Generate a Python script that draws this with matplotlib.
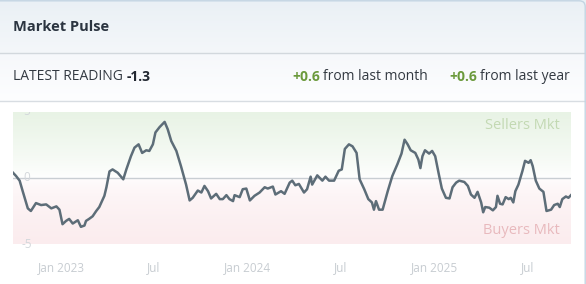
import numpy as np
import pandas as pd
import matplotlib
matplotlib.use("Agg")
import matplotlib.pyplot as plt
import matplotlib.dates as mdates
import matplotlib.transforms as mtrans
from matplotlib.patches import FancyBboxPatch
from matplotlib.colors import to_rgb

# --- data ---
dates = [
    "2022-09-28", "2022-10-04", "2022-10-11", "2022-10-17", "2022-10-27", "2022-11-02",
    "2022-11-12", "2022-11-22", "2022-12-02", "2022-12-12", "2022-12-22", "2022-12-28",
    "2023-01-03", "2023-01-10", "2023-01-16", "2023-01-23", "2023-02-02", "2023-02-08",
    "2023-02-15", "2023-02-18", "2023-02-24", "2023-03-03", "2023-03-10", "2023-03-16",
    "2023-03-26", "2023-03-30", "2023-04-05", "2023-04-11", "2023-04-21", "2023-05-02",
    "2023-05-08", "2023-05-17", "2023-05-24", "2023-06-01", "2023-06-08", "2023-06-16",
    "2023-06-22", "2023-06-29", "2023-07-04", "2023-07-12", "2023-07-22", "2023-07-28",
    "2023-08-04", "2023-08-14", "2023-08-23", "2023-09-02", "2023-09-09", "2023-09-15",
    "2023-09-25", "2023-10-02", "2023-10-08", "2023-10-15", "2023-10-21", "2023-10-31",
    "2023-11-07", "2023-11-13", "2023-11-20", "2023-11-26", "2023-12-03", "2023-12-06",
    "2023-12-16", "2023-12-22", "2023-12-29", "2024-01-05", "2024-01-14", "2024-01-24",
    "2024-02-03", "2024-02-09", "2024-02-19", "2024-02-24", "2024-03-06", "2024-03-13",
    "2024-03-23", "2024-03-28", "2024-04-03", "2024-04-10", "2024-04-20", "2024-04-26",
    "2024-05-03", "2024-05-06", "2024-05-16", "2024-05-26", "2024-06-01", "2024-06-08",
    "2024-06-18", "2024-06-27", "2024-07-03", "2024-07-09", "2024-07-17", "2024-07-24",
    "2024-08-01", "2024-08-07", "2024-08-16", "2024-08-24", "2024-08-31", "2024-09-04",
    "2024-09-08", "2024-09-14", "2024-09-21", "2024-10-01", "2024-10-10", "2024-10-20",
    "2024-10-28", "2024-11-03", "2024-11-09", "2024-11-15", "2024-11-24", "2024-11-30",
    "2024-12-04", "2024-12-08", "2024-12-13", "2024-12-21", "2024-12-27", "2025-01-02",
    "2025-01-09", "2025-01-15", "2025-01-23", "2025-01-30", "2025-02-05", "2025-02-12",
    "2025-02-18", "2025-02-28", "2025-03-07", "2025-03-13", "2025-03-20", "2025-03-26",
    "2025-04-02", "2025-04-06", "2025-04-10", "2025-04-18", "2025-04-25", "2025-05-01",
    "2025-05-04", "2025-05-09", "2025-05-14", "2025-05-20", "2025-05-26", "2025-05-30",
    "2025-06-04", "2025-06-08", "2025-06-14", "2025-06-22", "2025-06-27", "2025-07-04",
    "2025-07-08", "2025-07-12", "2025-07-18", "2025-07-25", "2025-08-02", "2025-08-08",
    "2025-08-17", "2025-08-23", "2025-08-30", "2025-09-03", "2025-09-08", "2025-09-15",
    "2025-09-20", "2025-09-25",
]
values = [
    0.4, 0.15, -0.2, -1.0, -2.3, -2.5,
    -1.9, -2.05, -2.0, -2.3, -2.15, -2.4,
    -3.5, -3.25, -3.1, -3.45, -3.2, -3.7,
    -3.6, -3.25, -3.1, -2.9, -2.5, -2.2,
    -1.35, -0.7, 0.5, 0.65, 0.4, -0.1,
    0.65, 1.65, 2.3, 2.55, 1.9, 2.1,
    2.05, 2.55, 3.45, 3.85, 4.25, 3.7,
    2.8, 2.05, 0.9, -0.5, -1.7, -1.5,
    -0.95, -1.1, -0.6, -1.0, -1.55, -1.2,
    -1.6, -1.6, -1.3, -1.6, -1.75, -1.3,
    -1.45, -0.85, -0.8, -1.7, -1.35, -1.1,
    -0.7, -0.8, -0.65, -1.25, -1.0, -1.2,
    -0.35, -0.2, -0.55, -0.45, -1.1, -0.85,
    0.1, -0.5, 0.2, -0.2, 0.1, -0.2,
    -0.2, 0.55, 0.65, 2.2, 2.55, 2.4,
    1.9, -0.1, -0.85, -1.6, -1.85, -2.4,
    -1.75, -2.4, -2.4, -1.0, 0.15, 1.05,
    1.85, 2.9, 2.55, 2.1, 1.9, 1.4,
    0.75, 1.65, 2.1, 1.85, 2.05, 1.65,
    0.3, -0.8, -1.5, -1.55, -0.7, -0.35,
    -0.2, -0.3, -0.6, -1.25, -1.5, -1.05,
    -1.85, -2.6, -2.2, -2.25, -2.45, -2.2,
    -1.35, -1.95, -2.0, -1.45, -1.6, -1.5,
    -1.85, -1.0, -0.5, 0.55, 1.3, 1.15,
    1.35, 0.9, -0.2, -0.8, -1.05, -2.5,
    -2.4, -2.05, -1.95, -2.2, -1.6, -1.4,
    -1.5, -1.3,
]
title = "Market Pulse"
latest_reading = -1.3
month_change = 0.6
year_change = 0.6
y_ticks = [5, 0, -5]

W, H = 586, 284
plt.rcParams["font.family"] = ["Open Sans", "DejaVu Sans"]

fig = plt.figure(figsize=(W / 100, H / 100), dpi=100)
fig.patch.set_facecolor("white")

# background layer in pixel units (header, reading row, card border)
bg = fig.add_axes([0, 0, 1, 1])
bg.set_xlim(0, W)
bg.set_ylim(H, 0)
bg.axis("off")


def vgrad(c_top, c_bot, n=64):
    a = np.array(to_rgb(c_top))
    b = np.array(to_rgb(c_bot))
    t = np.linspace(0, 1, n)[:, None]
    return (a * (1 - t) + b * t)[:, None, :]


bg.imshow(vgrad("#eaf0f5", "#f4f7fa"), extent=[0, W, 53, 0], aspect="auto", zorder=0)
bg.imshow(vgrad("#f6f8fb", "#fdfeff"), extent=[0, W, 101, 53], aspect="auto", zorder=0)
bg.axhline(53, color="#d2d8dd", lw=1, zorder=2)
bg.axhline(101, color="#d8dde2", lw=1, zorder=2)
card = FancyBboxPatch((-20, 0.8), W - 0.8 + 20, H + 20, boxstyle="round,pad=0,rounding_size=6",
                      fc="none", ec="#c3d5e3", lw=1, zorder=3)
bg.add_patch(card)

renderer = fig.canvas.get_renderer()


def text_run(x, y, parts, size):
    for s, color, weight in parts:
        t = bg.text(x, y, s, color=color, fontweight=weight, fontsize=size,
                    ha="left", va="center", zorder=4)
        bb = t.get_window_extent(renderer=renderer)
        x += bb.width + 3.5


bg.text(13, 27, title, fontsize=10.5, fontweight="bold", color="#2b3440", ha="left", va="center")
text_run(13, 77, [("LATEST READING", "#333a42", "normal"),
                  (f"{latest_reading:.1f}", "#222831", "bold")], 10)
green = "#6b9a3c"
text_run(292, 77, [(f"{month_change:+.1f}", green, "bold"),
                   ("from last month", "#333a42", "normal")], 10)
text_run(449, 77, [(f"{year_change:+.1f}", green, "bold"),
                   ("from last year", "#333a42", "normal")], 10)

# --- chart ---
ax = fig.add_axes([13 / W, 1 - 244 / H, (571 - 13) / W, (244 - 112) / H])
ax.patch.set_alpha(0)
x = pd.to_datetime(dates)
xn = mdates.date2num(x)
x0, x1 = xn[0], xn[-1]
ax.set_xlim(x0, x1)
ax.set_ylim(-5, 5)

# background tint: green above zero, pink below
n = 200
v = np.linspace(5, -5, n)
top = np.array(to_rgb("#e8f3e5"))
bot = np.array(to_rgb("#fbecee"))
white = np.ones(3)
img = np.zeros((n, 1, 3))
for i, val in enumerate(v):
    if val >= 0:
        t = (val / 5) ** 0.8
        img[i, 0] = white * (1 - t) + top * t
    else:
        t = (-val / 5) ** 0.5
        img[i, 0] = white * (1 - t) + bot * t
ax.imshow(img, extent=[x0, x1, -5, 5], aspect="auto", zorder=0)

ax.axhline(0, color="#c9ced3", lw=1, zorder=1)
ax.plot(x, values, color="#5d6d78", lw=1.8, zorder=3, solid_joinstyle="round")

# faint y labels; the top one is cut by the chart edge as in the reference
lab_tr = mtrans.blended_transform_factory(ax.transAxes, ax.transData)
for yt in y_ticks:
    ax.text(0.025, yt, str(yt), transform=lab_tr, ha="center", va="center",
            fontsize=8.5, color="#d3d7db", zorder=2, clip_on=(yt > 0))

ax.text(0.98, 0.9, "Sellers Mkt", transform=ax.transAxes, ha="right", va="center",
        fontsize=10.5, color="#c3d9b3", zorder=2)
ax.text(0.98, 0.1, "Buyers Mkt", transform=ax.transAxes, ha="right", va="center",
        fontsize=10.5, color="#e8b9bd", zorder=2)

ax.xaxis.set_major_locator(mdates.MonthLocator(bymonth=[1, 7]))


def fmt(val, pos):
    d = mdates.num2date(val)
    return d.strftime("%b %Y") if d.month == 1 else d.strftime("%b")


ax.xaxis.set_major_formatter(plt.FuncFormatter(fmt))
ax.tick_params(axis="x", length=0, pad=12, labelsize=8.5, labelcolor="#c7ccd1")
ax.set_yticks([])
for s in ax.spines.values():
    s.set_visible(False)

fig.savefig("out.png", dpi=100)
